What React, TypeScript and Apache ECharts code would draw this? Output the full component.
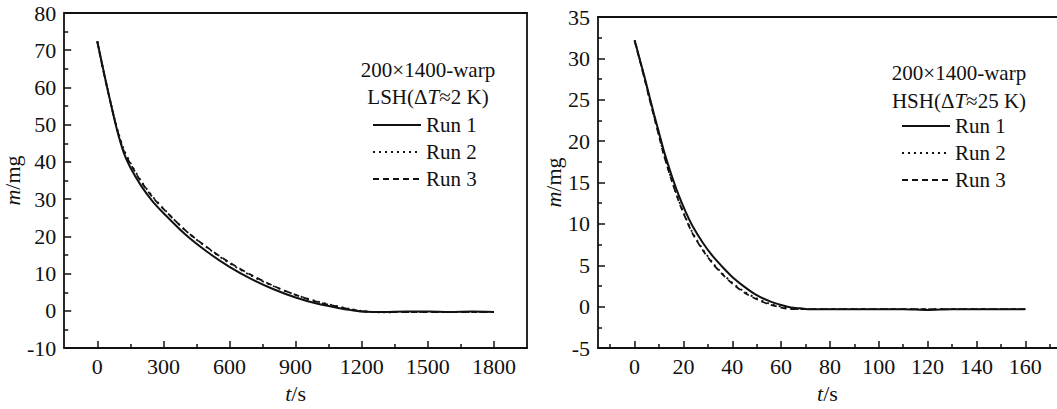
import React, { useEffect, useRef } from "react";
import * as echarts from "echarts";

// ---- Left chart (LSH) ----
const tLeft = [0, 30, 60, 90, 120, 150, 200, 250, 300, 400, 500, 600, 700, 800, 900, 1000, 1100, 1150, 1200, 1250, 1300, 1400, 1500, 1600, 1700, 1800];
const run1Left = [72.4, 64, 56, 48.5, 42.5, 38.5, 33.5, 29.5, 26.3, 20.5, 15.8, 11.8, 8.5, 5.8, 3.6, 1.9, 0.7, 0.2, -0.2, -0.3, -0.3, -0.2, -0.2, -0.3, -0.2, -0.3];
const run2Left = [72.4, 64, 56.2, 49, 43.5, 39.8, 34.8, 30.8, 27.5, 21.6, 16.9, 12.8, 9.4, 6.6, 4.3, 2.5, 1.1, 0.5, 0, -0.3, -0.4, -0.3, -0.3, -0.3, -0.3, -0.3];
const run3Left = [72.3, 63.8, 56, 48.8, 43, 39.5, 34.6, 30.6, 27.4, 21.6, 17, 13, 9.6, 6.7, 4.3, 2.4, 1.0, 0.4, -0.1, -0.3, -0.3, -0.3, -0.3, -0.3, -0.3, -0.3];
const xMajorLeft = [0, 300, 600, 900, 1200, 1500, 1800];
const xMinorLeft = [150, 450, 750, 1050, 1350, 1650];

// ---- Right chart (HSH) ----
const tRight = [0, 2, 4, 6, 8, 10, 12, 15, 18, 21, 24, 28, 32, 36, 40, 45, 50, 55, 60, 64, 68, 72, 80, 90, 100, 110, 120, 130, 140, 150, 160];
const run1Right = [32.2, 30, 27.8, 25.5, 23.2, 21, 18.8, 16, 13.5, 11.4, 9.6, 7.7, 6.1, 4.8, 3.6, 2.4, 1.4, 0.7, 0.2, -0.1, -0.2, -0.3, -0.3, -0.3, -0.3, -0.3, -0.4, -0.3, -0.3, -0.3, -0.3];
const run2Right = [32.2, 30, 27.7, 25.3, 23, 20.7, 18.4, 15.5, 12.9, 10.7, 8.8, 6.9, 5.3, 4.0, 2.9, 1.8, 1.0, 0.4, 0, -0.2, -0.3, -0.3, -0.3, -0.3, -0.3, -0.3, -0.3, -0.3, -0.3, -0.3, -0.3];
const run3Right = [32.1, 29.9, 27.6, 25.2, 22.9, 20.6, 18.3, 15.4, 12.8, 10.6, 8.7, 6.8, 5.2, 3.9, 2.8, 1.7, 0.9, 0.3, -0.1, -0.3, -0.3, -0.3, -0.3, -0.3, -0.3, -0.3, -0.3, -0.3, -0.3, -0.3, -0.3];
const xMajorRight = [0, 20, 40, 60, 80, 100, 120, 140, 160];
const xMinorRight = [-10, 10, 30, 50, 70, 90, 110, 130, 150, 170];

const runNames = ["Run 1", "Run 2", "Run 3"];
const titleLine1 = "200×1400-warp";

const FONT = "'Liberation Serif', 'DejaVu Serif', serif";
const INK = "#111";

const zip = (t: number[], v: number[]) => t.map((x, i) => [x, v[i]]);

export default function App() {
  const ref = useRef<HTMLDivElement>(null);
  useEffect(() => {
    if (!ref.current) return;
    const chart = echarts.init(ref.current, undefined, { renderer: "svg" });

    const lineStyles = [
      { width: 2, type: "solid" as any },
      { width: 1.8, type: [2, 4] as any },
      { width: 1.8, type: [6, 4] as any },
    ];

    const axisLine = { show: true, onZero: false, lineStyle: { color: INK, width: 1.8 } };
    const labelStyle = { color: INK, fontSize: 22, fontFamily: FONT };
    const nameStyle = {
      color: INK,
      fontSize: 22,
      fontFamily: FONT,
      rich: { i: { fontStyle: "italic", fontSize: 22, fontFamily: FONT, color: INK }, n: { fontSize: 22, fontFamily: FONT, color: INK } },
    };

    const mkMainX = (grid: number, min: number, max: number, majors: number[]) => ({
      type: "value",
      gridIndex: grid,
      position: "bottom",
      min,
      max,
      axisLine,
      axisTick: { show: true, inside: true, length: 7, customValues: majors, lineStyle: { color: INK, width: 1.5 } },
      axisLabel: { show: true, customValues: majors, margin: 7, formatter: (v: number) => String(v), ...labelStyle },
      splitLine: { show: false },
      name: "{i|t}{n|/s}",
      nameLocation: "middle",
      nameGap: 29,
      nameTextStyle: nameStyle,
    });
    const mkMinorX = (grid: number, min: number, max: number, minors: number[]) => ({
      type: "value",
      gridIndex: grid,
      position: "bottom",
      min,
      max,
      axisLine: { show: false, onZero: false },
      axisTick: { show: true, inside: true, length: 4, customValues: minors, lineStyle: { color: INK, width: 1.5 } },
      axisLabel: { show: false },
      splitLine: { show: false },
    });
    const mkFrameX = (grid: number, min: number, max: number) => ({
      type: "value",
      gridIndex: grid,
      position: "top",
      min,
      max,
      axisLine,
      axisTick: { show: false },
      axisLabel: { show: false },
      splitLine: { show: false },
    });
    const mkY = (grid: number, min: number, max: number, interval: number) => ({
      type: "value",
      gridIndex: grid,
      position: "left",
      min,
      max,
      interval,
      axisLine,
      axisTick: { show: true, inside: true, length: 7, lineStyle: { color: INK, width: 1.5 } },
      minorTick: { show: true, splitNumber: 2, length: 4, lineStyle: { color: INK, width: 1.5 } },
      axisLabel: { show: true, margin: 8, ...labelStyle },
      splitLine: { show: false },
      minorSplitLine: { show: false },
      name: "{i|m}{n|/mg}",
      nameLocation: "middle",
      nameRotate: 90,
      nameGap: 32,
      nameTextStyle: nameStyle,
    });
    const mkFrameY = (grid: number, min: number, max: number) => ({
      type: "value",
      gridIndex: grid,
      position: "right",
      min,
      max,
      axisLine,
      axisTick: { show: false },
      axisLabel: { show: false },
      splitLine: { show: false },
    });

    const leftRuns = [run1Left, run2Left, run3Left];
    const rightRuns = [run1Right, run2Right, run3Right];

    const series: any[] = [];
    leftRuns.forEach((vals, i) => {
      series.push({
        type: "line",
        name: runNames[i],
        xAxisIndex: 0,
        yAxisIndex: 0,
        data: zip(tLeft, vals),
        showSymbol: false,
        symbol: "none",
        smooth: 0.3,
        lineStyle: { color: INK, ...lineStyles[i] },
        itemStyle: { color: INK },
        z: 3 - i,
      });
    });
    rightRuns.forEach((vals, i) => {
      series.push({
        type: "line",
        name: runNames[i],
        xAxisIndex: 3,
        yAxisIndex: 2,
        data: zip(tRight, vals),
        showSymbol: false,
        symbol: "none",
        smooth: 0.3,
        lineStyle: { color: INK, ...lineStyles[i] },
        itemStyle: { color: INK },
        z: 3 - i,
      });
    });

    const legendCommon = {
      orient: "vertical",
      padding: 0,
      itemWidth: 48,
      itemHeight: 14,
      itemGap: 5,
      data: runNames,
      selectedMode: false,
      itemStyle: { opacity: 0, borderWidth: 0 },
      textStyle: { color: INK, fontSize: 21, fontFamily: FONT, lineHeight: 22 },
    };

    const titleText = (cx: number, cy1: number, cy2: number, line2: string) => [
      {
        type: "text",
        x: cx,
        y: cy1,
        style: { text: titleLine1, font: `21px ${FONT}`, fill: INK, align: "center", verticalAlign: "middle" },
      },
      {
        type: "text",
        x: cx,
        y: cy2,
        style: {
          text: line2,
          fill: INK,
          align: "center",
          verticalAlign: "middle",
          rich: {
            a: { fontSize: 21, fontFamily: FONT, fill: INK },
            i: { fontSize: 21, fontFamily: FONT, fontStyle: "italic", fill: INK },
          },
        },
      },
    ];

    chart.setOption({
      animation: false,
      backgroundColor: "#ffffff",
      grid: [
        { left: 63, right: 530, top: 13, bottom: 54 },
        { left: 598, right: 0, top: 17, bottom: 53 },
      ],
      xAxis: [
        mkMainX(0, -150, 1950, xMajorLeft),
        mkMinorX(0, -150, 1950, xMinorLeft),
        mkFrameX(0, -150, 1950),
        mkMainX(1, -15, 173, xMajorRight),
        mkMinorX(1, -15, 173, xMinorRight),
        mkFrameX(1, -15, 173),
      ],
      yAxis: [mkY(0, -10, 80, 10), mkFrameY(0, -10, 80), mkY(1, -5, 35, 5)],
      legend: [
        { ...legendCommon, left: 372, top: 114 },
        { ...legendCommon, left: 901, top: 115 },
      ],
      graphic: [
        ...titleText(428, 70, 97, "{a|LSH(Δ}{i|T}{a|≈2 K)}"),
        ...titleText(959, 73, 101, "{a|HSH(Δ}{i|T}{a|≈25 K)}"),
      ],
      series,
    } as any);

    return () => chart.dispose();
  }, []);

  return (
    <div
      ref={ref}
      style={{ position: "fixed", left: 0, top: 0, width: 1057, height: 409, background: "#fff" }}
    />
  );
}
